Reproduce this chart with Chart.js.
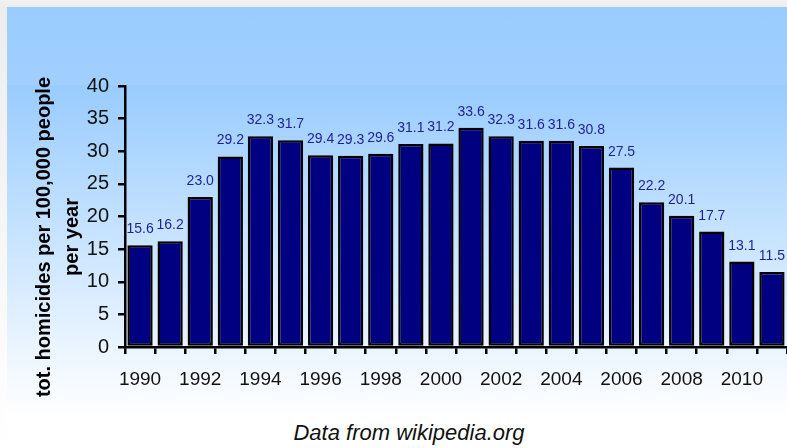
<!DOCTYPE html>
<html>
<head>
<meta charset="utf-8">
<script src="https://cdn.jsdelivr.net/npm/chart.js@4.4.1/dist/chart.umd.min.js"></script>
<style>
  html, body { margin: 0; padding: 0; background: #ffffff; }
  #wrap { position: relative; width: 787px; height: 448px; overflow: hidden;
          background: linear-gradient(to bottom, #f2f2f2 0px, #ededed 7px, #ffffff 448px); }
  #panel { position: absolute; left: 7px; top: 7px; width: 780px; height: 408px;
           background: linear-gradient(to bottom, #99ccff 0px, #a1cfff 78px, #99ccff 79px, #ffffff 408px); }
  #bottom { position: absolute; left: 7px; top: 415px; width: 780px; height: 33px; background: #ffffff; }
  #caption { position: absolute; left: 0; width: 818px; top: 420px; text-align: center;
             font: italic 22px "Liberation Sans", Arial, sans-serif; color: #111; }
  canvas { position: absolute; left: 0; top: 0; }
</style>
</head>
<body onload="handleOnLoad()">
<div id="wrap">
  <div id="panel"></div>
  <div id="bottom"></div>
  <div id="caption">Data from wikipedia.org</div>
  <canvas id="myChart" width="787" height="448"></canvas>
</div>
<script>
const years = ['1990','1991','1992','1993','1994','1995','1996','1997','1998','1999','2000',
               '2001','2002','2003','2004','2005','2006','2007','2008','2009','2010','2011']
const homicides = [15.6, 16.2, 23.0, 29.2, 32.3, 31.7, 29.4, 29.3, 29.6, 31.1, 31.2,
                   33.6, 32.3, 31.6, 31.6, 30.8, 27.5, 22.2, 20.1, 17.7, 13.1, 11.5]
const yTitle = ['tot. homicides per 100,000 people', 'per year']

const FONT = '"Liberation Sans", Arial, sans-serif'

// value labels above the bars
const valueLabels = {
  id: 'valueLabels',
  afterDatasetsDraw(chart) {
    const ctx = chart.ctx
    const meta = chart.getDatasetMeta(0)
    ctx.save()
    ctx.font = '14px ' + FONT
    ctx.fillStyle = '#1f1f96'
    ctx.textAlign = 'center'
    ctx.textBaseline = 'alphabetic'
    meta.data.forEach((bar, i) => {
      ctx.fillText(homicides[i].toFixed(1), bar.x, bar.y - 12)
    })
    ctx.restore()
  }
}

// two line rotated y axis title
const axisTitle = {
  id: 'axisTitle',
  afterDraw(chart) {
    const ctx = chart.ctx
    ctx.save()
    ctx.translate(0, 237)
    ctx.rotate(-Math.PI / 2)
    ctx.font = 'bold 20px ' + FONT
    ctx.fillStyle = '#000'
    ctx.textAlign = 'center'
    ctx.textBaseline = 'middle'
    ctx.fillText(yTitle[0], 0, 44)
    ctx.fillText(yTitle[1], 0, 72)
    ctx.restore()
  }
}

function handleOnLoad(){
  createReport()
}

function createReport(){
  const ctx = document.getElementById('myChart').getContext('2d')
  new Chart(ctx, {
    type: 'bar',
    data: {
      labels: years,
      datasets: [{
        data: homicides,
        backgroundColor: '#000080',
        borderColor: '#000000',
        borderWidth: 2.5,
        borderSkipped: false,
        barPercentage: 0.84,
        categoryPercentage: 1.0
      }]
    },
    options: {
      responsive: false,
      animation: false,
      layout: { padding: { left: 0, top: 86, right: 0, bottom: 56 } },
      plugins: { legend: { display: false }, tooltip: { enabled: false } },
      scales: {
        x: {
          afterFit: (s) => { s.height = 45 },
          border: { color: '#000', width: 2.5 },
          grid: { offset: true, drawOnChartArea: false, color: '#000', lineWidth: 2.5, tickLength: 7 },
          ticks: {
            autoSkip: false, maxRotation: 0, padding: 14, color: '#111',
            font: { family: FONT, size: 19 },
            callback: function(v, i) { return i % 2 === 0 ? years[i] : '' }
          }
        },
        y: {
          min: 0, max: 40,
          afterFit: (s) => { s.width = 125 },
          border: { color: '#000', width: 2.5 },
          grid: { drawOnChartArea: false, color: '#000', lineWidth: 2.5, tickLength: 7 },
          ticks: { stepSize: 5, padding: 9, color: '#111', font: { family: FONT, size: 20 } }
        }
      }
    },
    plugins: [valueLabels, axisTitle]
  })
}
</script>
</body>
</html>
